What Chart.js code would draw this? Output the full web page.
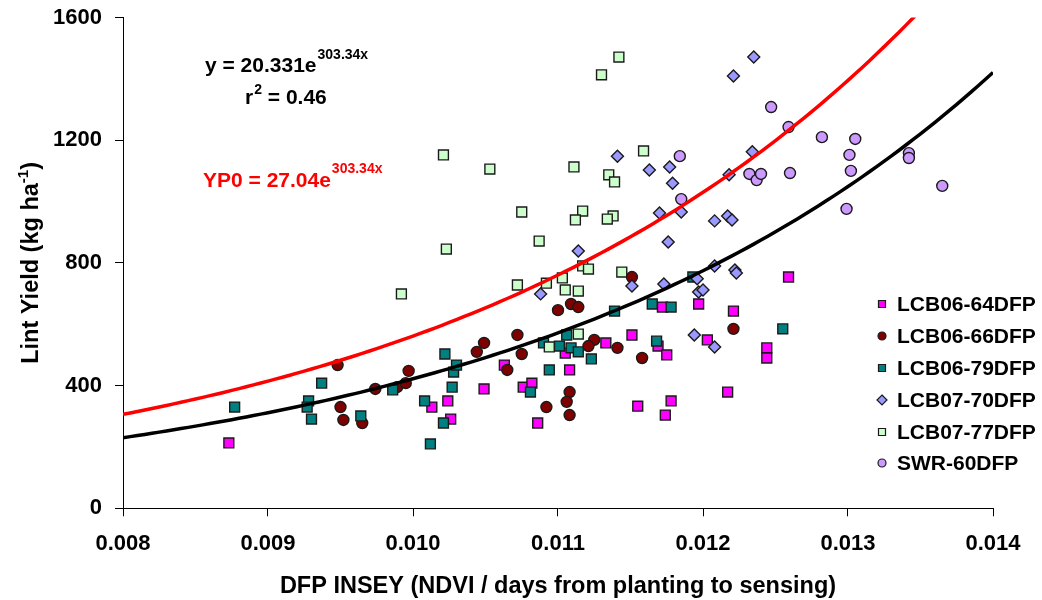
<!DOCTYPE html>
<html>
<head>
<meta charset="utf-8">
<script src="https://cdn.jsdelivr.net/npm/chart.js@4/dist/chart.umd.min.js"></script>
<style>
  html, body { margin: 0; padding: 0; background: #fff; }
  canvas { display: block; }
</style>
</head>
<body>
<canvas id="chart" width="1042" height="600"></canvas>
<script>
// ---- Data: [DFP INSEY, lint yield kg/ha] per trial ----
const seriesNames = ['LCB06-64DFP', 'LCB06-66DFP', 'LCB06-79DFP', 'LCB07-70DFP', 'LCB07-77DFP', 'SWR-60DFP'];

const lcb06_64 = [
  [0.00873, 213], [0.01013, 330], [0.01024, 350], [0.01026, 291], [0.01049, 389],
  [0.01063, 467], [0.01076, 395], [0.01082, 408], [0.01086, 278], [0.01105, 506],
  [0.01108, 451], [0.01133, 539], [0.01151, 565], [0.01169, 529], [0.01175, 500],
  [0.01172, 656], [0.01155, 333], [0.01174, 304], [0.01178, 350], [0.01197, 666],
  [0.01221, 643], [0.01203, 549], [0.01244, 523], [0.01244, 490], [0.01217, 379],
  [0.01259, 754]
];
const lcb06_66 = [
  [0.00948, 467], [0.00950, 330], [0.00952, 288], [0.00965, 278], [0.00974, 389],
  [0.00989, 395], [0.00995, 408], [0.00997, 448], [0.01044, 510], [0.01049, 539],
  [0.01072, 565], [0.01075, 503], [0.01065, 451], [0.01092, 330], [0.01100, 646],
  [0.01109, 666], [0.01114, 656], [0.01125, 549], [0.01121, 529], [0.01141, 523],
  [0.01158, 490], [0.01151, 754], [0.01108, 379], [0.01106, 347], [0.01108, 304],
  [0.01221, 585]
];
const lcb06_79 = [
  [0.00877, 330], [0.00937, 408], [0.00928, 350], [0.00927, 330], [0.00930, 291],
  [0.00964, 301], [0.00986, 386], [0.01008, 350], [0.01021, 278], [0.01012, 210],
  [0.01027, 395], [0.01028, 444], [0.01030, 467], [0.01022, 503], [0.01081, 379],
  [0.01094, 451], [0.01090, 539], [0.01101, 529], [0.01106, 565], [0.01109, 523],
  [0.01114, 510], [0.01123, 487], [0.01139, 643], [0.01165, 666], [0.01178, 656],
  [0.01168, 545], [0.01193, 754], [0.01255, 585]
];
const lcb07_70 = [
  [0.01088, 699], [0.01114, 839], [0.01141, 1148], [0.01163, 1103], [0.01177, 1113],
  [0.01179, 1060], [0.01170, 963], [0.01185, 966], [0.01151, 725], [0.01173, 731],
  [0.01176, 868], [0.01196, 748], [0.01197, 705], [0.01200, 712], [0.01194, 565],
  [0.01208, 526], [0.01208, 790], [0.01222, 777], [0.01223, 767], [0.01208, 937],
  [0.01217, 953], [0.01220, 940], [0.01218, 1087], [0.01234, 1162], [0.01221, 1409],
  [0.01235, 1471]
];
const lcb07_77 = [
  [0.00992, 699], [0.01021, 1152], [0.01023, 845], [0.01053, 1106], [0.01075, 966],
  [0.01072, 728], [0.01087, 871], [0.01092, 734], [0.01103, 751], [0.01105, 712],
  [0.01114, 708], [0.01114, 568], [0.01094, 526], [0.01111, 1113], [0.01130, 1413],
  [0.01142, 1471], [0.01135, 1087], [0.01139, 1064], [0.01159, 1165], [0.01117, 969],
  [0.01112, 940], [0.01138, 953], [0.01134, 943], [0.01117, 790], [0.01121, 780],
  [0.01144, 770]
];
const swr_60 = [
  [0.01247, 1308], [0.01259, 1243], [0.01282, 1210], [0.01305, 1204], [0.01301, 1152],
  [0.01302, 1100], [0.01184, 1148], [0.01185, 1008], [0.01232, 1090], [0.01237, 1070],
  [0.01240, 1090], [0.01260, 1093], [0.01299, 976], [0.01342, 1158], [0.01342, 1142],
  [0.01365, 1051]
];

// Exponential fit y = a·e^(b·x) and the YP0 curve sharing the same exponent
const fitA = 20.331;
const fitB = 303.34;
const fitR2 = '0.46';
const yp0A = 27.04;

const xTickRange = [0.008, 0.014];
const xTickStep = 0.001;
const yTickRange = [0, 1600];
const yTickStep = 400;

// ---- Styling ----
const FONT = '"Liberation Sans", Arial, Helvetica, sans-serif';
const markerStyles = [
  { pointStyle: 'rect',    radius: 7,   fill: '#FF00FF' },
  { pointStyle: 'circle',  radius: 5.5, fill: '#800000' },
  { pointStyle: 'rect',    radius: 7,   fill: '#008080' },
  { pointStyle: 'rectRot', radius: 6,   fill: '#9999FF' },
  { pointStyle: 'rect',    radius: 7,   fill: '#CCFFCC' },
  { pointStyle: 'circle',  radius: 5.5, fill: '#CC99FF' }
];

const seriesData = [lcb06_64, lcb06_66, lcb06_79, lcb07_70, lcb07_77, swr_60];

function curve(a) {
  const pts = [];
  const n = 120;
  for (let i = 0; i <= n; i++) {
    const x = xTickRange[0] + (xTickRange[1] - xTickRange[0]) * i / n;
    pts.push({ x, y: a * Math.exp(fitB * x) });
  }
  return pts;
}

const scatterSets = seriesData.map((rows, i) => ({
  type: 'scatter',
  label: seriesNames[i],
  data: rows.map(([x, y]) => ({ x, y })),
  pointStyle: markerStyles[i].pointStyle,
  pointRadius: markerStyles[i].radius,
  pointHoverRadius: markerStyles[i].radius,
  backgroundColor: markerStyles[i].fill,
  borderColor: '#1a1a1a',
  borderWidth: 1.4,
  order: seriesData.length - i
}));

const lineSets = [
  {
    type: 'line', label: 'fit', data: curve(fitA),
    borderColor: '#000000', borderWidth: 3.5, pointRadius: 0, tension: 0, fill: false, order: 0
  },
  {
    type: 'line', label: 'YP0', data: curve(yp0A),
    borderColor: '#FF0000', borderWidth: 3.5, pointRadius: 0, tension: 0, fill: false, order: 0
  }
];

// Equation text, axis titles and legend
const decorations = {
  id: 'decorations',
  afterDraw(chart) {
    const ctx = chart.ctx;
    const area = chart.chartArea;
    ctx.save();
    ctx.textBaseline = 'alphabetic';
    ctx.textAlign = 'left';

    function withSup(x, y, main, sup, size, supSize, supRise, color, tail) {
      ctx.fillStyle = color;
      ctx.font = `bold ${size}px ${FONT}`;
      ctx.fillText(main, x, y);
      let cx = x + ctx.measureText(main).width;
      ctx.font = `bold ${supSize}px ${FONT}`;
      ctx.fillText(sup, cx + 1, y - supRise);
      cx += ctx.measureText(sup).width + 1;
      if (tail) {
        ctx.font = `bold ${size}px ${FONT}`;
        ctx.fillText(tail, cx, y);
      }
    }

    // fitted equation
    withSup(205, 72, `y = ${fitA}e`, `${fitB}x`, 21, 14, 13, '#000');
    withSup(245, 104, 'r', '2', 21, 14, 10, '#000', ` = ${fitR2}`);
    withSup(203, 187, `YP0 = ${yp0A}e`, `${fitB}x`, 21, 14, 14, '#FF0000');

    // x-axis title
    ctx.fillStyle = '#000';
    ctx.font = `bold 23.5px ${FONT}`;
    ctx.textAlign = 'center';
    ctx.fillText('DFP INSEY (NDVI / days from planting to sensing)', (area.left + area.right) / 2, 593);

    // y-axis title with superscript
    ctx.save();
    ctx.translate(38, (area.top + area.bottom) / 2);
    ctx.rotate(-Math.PI / 2);
    ctx.textAlign = 'left';
    const p1 = 'Lint Yield (kg ha', p2 = '-1', p3 = ')';
    ctx.font = `bold 23.5px ${FONT}`;
    const w1 = ctx.measureText(p1).width, w3 = ctx.measureText(p3).width;
    ctx.font = `bold 15px ${FONT}`;
    const w2 = ctx.measureText(p2).width;
    let sx = -(w1 + w2 + w3) / 2;
    ctx.font = `bold 23.5px ${FONT}`;
    ctx.fillText(p1, sx, 0);
    ctx.font = `bold 15px ${FONT}`;
    ctx.fillText(p2, sx + w1, -10);
    ctx.font = `bold 23.5px ${FONT}`;
    ctx.fillText(p3, sx + w1 + w2, 0);
    ctx.restore();

    // legend
    const lx = 882, tx = 897, y0 = 304, dy = 32;
    ctx.textAlign = 'left';
    ctx.textBaseline = 'middle';
    seriesNames.forEach((name, i) => {
      const y = y0 + dy * i - (i === 5 ? 1 : 0);
      const m = markerStyles[i];
      ctx.fillStyle = m.fill;
      ctx.strokeStyle = '#1a1a1a';
      ctx.lineWidth = 1.2;
      ctx.beginPath();
      if (m.pointStyle === 'rect') {
        ctx.rect(lx - 3.5, y - 3.5, 7, 7);
      } else if (m.pointStyle === 'circle') {
        ctx.arc(lx, y, 4, 0, Math.PI * 2);
      } else {
        ctx.moveTo(lx, y - 5); ctx.lineTo(lx + 5, y); ctx.lineTo(lx, y + 5); ctx.lineTo(lx - 5, y); ctx.closePath();
      }
      ctx.fill();
      ctx.stroke();
      ctx.fillStyle = '#000';
      ctx.font = `bold 21px ${FONT}`;
      ctx.fillText(name, tx, y + 1);
    });
    ctx.restore();
  }
};

const tickFont = { family: FONT, size: 22, weight: 'bold' };

function noScalePadding(s) {
  s.paddingTop = 0; s.paddingBottom = 0; s.paddingLeft = 0; s.paddingRight = 0;
}

new Chart(document.getElementById('chart'), {
  type: 'scatter',
  data: { datasets: [...lineSets, ...scatterSets] },
  options: {
    responsive: false,
    animation: false,
    devicePixelRatio: 1,
    layout: { padding: { left: 0, right: 49, top: 17.5, bottom: 0 } },
    plugins: { legend: { display: false }, tooltip: { enabled: false } },
    events: [],
    scales: {
      x: {
        type: 'linear',
        min: xTickRange[0], max: xTickRange[1],
        ticks: {
          stepSize: xTickStep,
          color: '#000',
          font: tickFont,
          padding: 14,
          maxRotation: 0,
          callback: v => v.toFixed(3)
        },
        grid: { display: true, drawOnChartArea: false, drawTicks: true, tickLength: 8, color: '#000', lineWidth: 1 },
        border: { display: true, color: '#000', width: 1 },
        afterFit: s => { s.height = 91.7; noScalePadding(s); }
      },
      y: {
        min: yTickRange[0], max: yTickRange[1],
        ticks: {
          stepSize: yTickStep,
          color: '#000',
          font: tickFont,
          padding: 13,
          callback: v => String(v)
        },
        grid: { display: true, drawOnChartArea: false, drawTicks: true, tickLength: 8, color: '#000', lineWidth: 1 },
        border: { display: true, color: '#000', width: 1 },
        afterFit: s => { s.width = 123; noScalePadding(s); }
      }
    }
  },
  plugins: [decorations]
});
</script>
</body>
</html>
